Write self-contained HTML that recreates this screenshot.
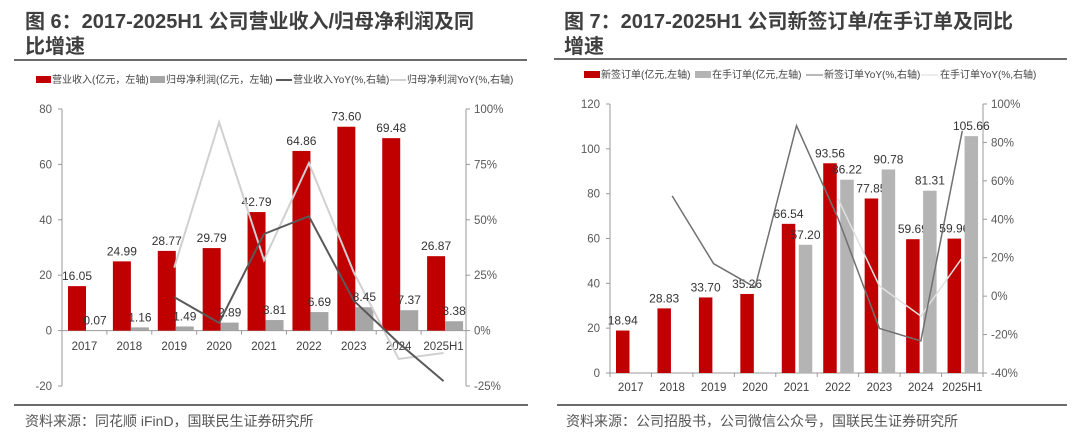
<!DOCTYPE html>
<html><head><meta charset="utf-8">
<style>
body{margin:0;width:1080px;height:447px;background:#fff;overflow:hidden;font-family:"Liberation Sans","Noto Sans CJK SC",sans-serif;}
svg{position:absolute;left:0;top:0}
text{font-family:"Liberation Sans","Noto Sans CJK SC",sans-serif;}
</style></head>
<body>
<svg id="s" width="1080" height="447">
  <g font-size="20" font-weight="bold" fill="#3f3f3f">
    <text x="25" y="28">图 6：2017-2025H1 公司营业收入/归母净利润及同</text>
    <text x="25" y="53">比增速</text>
  </g>
  <line x1="14" y1="60" x2="527" y2="60" stroke="#6b6b6b" stroke-width="2"/>
  <g font-size="20" font-weight="bold" fill="#3f3f3f">
    <text x="564" y="28">图 7：2017-2025H1 公司新签订单/在手订单及同比</text>
    <text x="564" y="53">增速</text>
  </g>
  <line x1="554" y1="59" x2="1067" y2="59" stroke="#6b6b6b" stroke-width="2"/>

  <g font-size="10" fill="#444">
    <rect x="36" y="76" width="15" height="7" fill="#c00000"/>
    <text x="52" y="83">营业收入(亿元，左轴)</text>
    <rect x="150" y="76" width="15" height="7" fill="#a6a6a6"/>
    <text x="166" y="83">归母净利润(亿元，左轴)</text>
    <line x1="276" y1="80" x2="292" y2="80" stroke="#595959" stroke-width="2"/>
    <text x="293" y="83">营业收入YoY(%,右轴)</text>
    <line x1="390" y1="80" x2="406" y2="80" stroke="#d0d0d0" stroke-width="2"/>
    <text x="407" y="83">归母净利润YoY(%,右轴)</text>
  </g>
  <g font-size="10" fill="#444">
    <rect x="584" y="71" width="16" height="7" fill="#c00000"/>
    <text x="601" y="78">新签订单(亿元,左轴)</text>
    <rect x="695" y="71" width="16" height="7" fill="#b4b4b4"/>
    <text x="712" y="78">在手订单(亿元,左轴)</text>
    <line x1="806" y1="75" x2="823" y2="75" stroke="#707070" stroke-width="1"/>
    <text x="824" y="78">新签订单YoY(%,右轴)</text>
    <line x1="921" y1="75" x2="938" y2="75" stroke="#d9d9d9" stroke-width="1"/>
    <text x="940" y="78">在手订单YoY(%,右轴)</text>
  </g>

  <g id="c1"></g>
  <g id="c2"></g>

  <line x1="14" y1="405" x2="528" y2="405" stroke="#6b6b6b" stroke-width="2"/>
  <line x1="557" y1="405" x2="1067" y2="405" stroke="#6b6b6b" stroke-width="2"/>
  <text x="25" y="426" font-size="14" fill="#555">资料来源：同花顺 iFinD，国联民生证券研究所</text>
  <text x="566" y="426" font-size="14" fill="#555">资料来源：公司招股书，公司微信公众号，国联民生证券研究所</text>
</svg>
<script>
const cats = ["2017","2018","2019","2020","2021","2022","2023","2024","2025H1"];
const revenue = [16.05,24.99,28.77,29.79,42.79,64.86,73.60,69.48,26.87];
const profit = [0.07,1.16,1.49,2.89,3.81,6.69,8.45,7.37,3.38];
const revenueYoY = [null,null,15.1,3.5,43.6,51.6,13.5,-5.6,-22.8];
const profitYoY = [null,null,28.4,94.0,31.8,75.6,26.3,-12.8,-10.1];
const leftTicks1 = [-20,0,20,40,60,80];
const rightTicks1 = [-25,0,25,50,75,100];

const newOrders = [18.94,28.83,33.70,35.26,66.54,93.56,77.85,59.69,59.96];
const backlog = [null,null,null,null,57.20,86.22,90.78,81.31,105.66];
const newYoY = [null,52.2,16.9,4.6,88.7,40.6,-16.8,-23.3,86.0];
const backlogYoY = [null,null,null,null,null,50.7,5.3,-10.4,20.0];
const leftTicks2 = [0,20,40,60,80,100,120];
const rightTicks2 = [-40,-20,0,20,40,60,80,100];

const NS="http://www.w3.org/2000/svg";
function mk(tag,attrs,parent,txt){const e=document.createElementNS(NS,tag);for(const k in attrs)e.setAttribute(k,attrs[k]);if(txt!==undefined)e.textContent=txt;parent.appendChild(e);return e;}
function fmtPct(v){return v+"%";}

function drawChart(g,cfg){
  const {x0,x1,yTop,yBot,lmin,lmax,rmin,rmax}=cfg;
  const band=(x1-x0)/cats.length;
  const yl=v=>yBot-(v-lmin)/(lmax-lmin)*(yBot-yTop);
  const yr=v=>yBot-(v-rmin)/(rmax-rmin)*(yBot-yTop);
  const bx=i=>x0+i*band;
  let a=mk("line",{x1:x0,y1:yTop,x2:x0,y2:yBot,stroke:"#999","stroke-width":1},g);
  
  
  a=mk("line",{x1:x1,y1:yTop,x2:x1,y2:yBot,stroke:"#999","stroke-width":1},g);
  
  
  const zy=yl(0);
  a=mk("line",{x1:x0,y1:zy,x2:x1,y2:zy,stroke:"#999","stroke-width":1},g);
  
  
  cfg.lt.forEach(t=>{const y=yl(t);mk("line",{x1:x0-4,y1:y,x2:x0,y2:y,stroke:"#999"},g);
    const tx=mk("text",{x:x0-cfg.lOff,y:y+4,"font-size":11.5,fill:"#595959","text-anchor":"end"},g,t);
    
    });
  cfg.rt.forEach(t=>{const y=yr(t);mk("line",{x1:x1,y1:y,x2:x1+4,y2:y,stroke:"#999"},g);
    const tx=mk("text",{x:x1+8,y:y+4,"font-size":11.5,fill:"#595959"},g,fmtPct(t));
    
    });
  cats.forEach((c,i)=>{
    mk("line",{x1:bx(i),y1:zy,x2:bx(i),y2:zy+4,stroke:"#999"},g);
    const tx=mk("text",{x:bx(i)+band/2,y:cfg.labY,"font-size":11.5,fill:"#404040","text-anchor":"middle"},g,c);
    
    
  });
  mk("line",{x1:x1,y1:zy,x2:x1,y2:zy+4,stroke:"#999"},g);
  const s1=cfg.s1,s2=cfg.s2;
  s1.forEach((v,i)=>{if(v==null)return;const x=bx(i)+cfg.o1,y=yl(v);
    const r=mk("rect",{x:x,y:y,width:cfg.bw,height:zy-y,fill:"#c00000"},g);
    
    
    const t=mk("text",{x:x+cfg.bw/2,y:y-6,"font-size":12,fill:"#333","text-anchor":"middle"},g,v.toFixed(2));
    
    });
  s2.forEach((v,i)=>{if(v==null)return;const x=bx(i)+cfg.o2,y=yl(v);
    const r=mk("rect",{x:x,y:y,width:cfg.bw,height:zy-y,fill:cfg.c2},g);
    
    });
  function line(arr,col,w,name){let d="";arr.forEach((v,i)=>{if(v==null)return;d+=(d?"L":"M")+(bx(i)+band/2)+","+yr(v);});
    const p=mk("path",{d:d,fill:"none",stroke:col,"stroke-width":w},g);
    
    }
  line(cfg.l2,cfg.l2c,cfg.l2w,cfg.l2n);
  line(cfg.l1,cfg.l1c,cfg.l1w,cfg.l1n);
  s2.forEach((v,i)=>{if(v==null)return;const x=bx(i)+cfg.o2,y=yl(v);
    const t=mk("text",{x:x+cfg.bw/2,y:y-6,"font-size":12,fill:"#333","text-anchor":"middle"},g,v.toFixed(2));
    
    });
}
drawChart(document.getElementById("c1"),{x0:62,x1:466,yTop:109,yBot:386,lmin:-20,lmax:80,rmin:-25,rmax:100,
  lt:leftTicks1,rt:rightTicks1,lOff:10,labY:350,s1:revenue,s2:profit,o1:6,o2:24,bw:18,c2:"#a6a6a6",n1:"revenue",n2:"profit",
  l1:revenueYoY,l1c:"#595959",l1w:2,l1n:"line-revenue-yoy",l2:profitYoY,l2c:"#d0d0d0",l2w:2,l2n:"line-profit-yoy"});
drawChart(document.getElementById("c2"),{x0:610,x1:983,yTop:104,yBot:373,lmin:0,lmax:120,rmin:-40,rmax:100,
  lt:leftTicks2,rt:rightTicks2,lOff:10,labY:391,s1:newOrders,s2:backlog,o1:6,o2:23,bw:13.5,c2:"#b4b4b4",n1:"new-orders",n2:"backlog",
  l1:newYoY,l1c:"#707070",l1w:1.5,l1n:"line-new-orders-yoy",l2:backlogYoY,l2c:"#e0e0e0",l2w:1.5,l2n:"line-backlog-yoy"});
</script>
</body></html>
